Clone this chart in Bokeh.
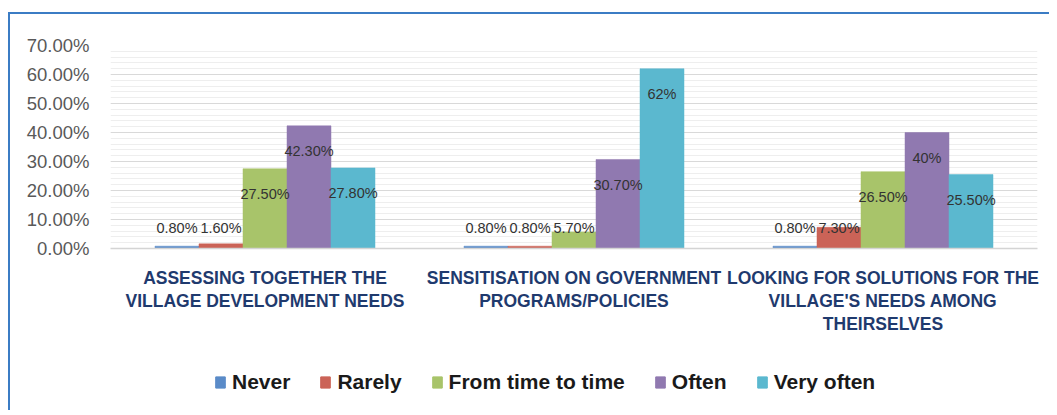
import numpy as np
from bokeh.plotting import figure
from bokeh.layouts import column
from bokeh.core.properties import value
from bokeh.models import (ColumnDataSource, FixedTicker, SingleIntervalTicker,
                          Legend, LegendItem, LabelSet, Range1d)
from bokeh.embed import file_html
from bokeh.resources import INLINE

categories = [
    "ASSESSING TOGETHER THE\nVILLAGE DEVELOPMENT NEEDS",
    "SENSITISATION ON GOVERNMENT\nPROGRAMS/POLICIES",
    "LOOKING FOR SOLUTIONS FOR THE\nVILLAGE'S NEEDS AMONG\nTHEIRSELVES",
]
series = ["Never", "Rarely", "From time to time", "Often", "Very often"]
never = [0.8, 0.8, 0.8]
rarely = [1.6, 0.8, 7.3]
from_time = [27.5, 5.7, 26.5]
often = [42.3, 30.7, 40.0]
very_often = [27.8, 62.0, 25.5]
label_text = [
    ["0.80%", "0.80%", "0.80%"],
    ["1.60%", "0.80%", "7.30%"],
    ["27.50%", "5.70%", "26.50%"],
    ["42.30%", "30.70%", "40%"],
    ["27.80%", "62%", "25.50%"],
]
colors = ["#5A8BC8", "#CB6357", "#A8C46A", "#9079B0", "#5BB8CF"]
values = [never, rarely, from_time, often, very_often]

BLUE = "#3B7CC4"
p = figure(width=1039, height=336, output_backend="svg", toolbar_location=None,
           x_range=Range1d(-0.5, 2.5), y_range=Range1d(0, 70),
           min_border_left=100, min_border_right=12, min_border_top=31, min_border_bottom=102)
p.outline_line_color = None
p.background_fill_color = "white"
p.border_fill_color = "white"

p_leg = figure(width=1039, height=60, output_backend="svg", toolbar_location=None,
               x_range=Range1d(0, 1), y_range=Range1d(0, 1),
               x_axis_location=None, y_axis_location=None,
               min_border_left=0, min_border_right=0, min_border_top=0, min_border_bottom=0)
p_leg.outline_line_color = None
p_leg.grid.visible = False

bw = 0.1424
items = []
for i, (name, vals, col, labs) in enumerate(zip(series, values, colors, label_text)):
    xs = np.arange(3) + (i - 2) * bw
    ly = np.maximum(np.array(vals) - 8.7, 6.9)
    src = ColumnDataSource(dict(x=xs, top=vals, ly=ly, lab=labs))
    p.vbar(x="x", top="top", width=bw, source=src, fill_color=col, line_color=col, line_width=0.5)
    p.add_layout(LabelSet(x="x", y="ly", text="lab", source=src, text_align="center",
                          text_baseline="middle", text_font=value("Liberation Sans"),
                          text_font_size="14.5px", text_color="#333333"))
    # legend proxy glyph, placed outside the visible range of the legend strip
    lr = p_leg.vbar(x=[-5], top=[-5], width=0.1, fill_color=col, line_color=col)
    items.append(LegendItem(label=name, renderers=[lr]))

# axes
p.yaxis.ticker = SingleIntervalTicker(interval=10, num_minor_ticks=5)
p.yaxis.major_label_overrides = {v: f"{v:.2f}%" for v in range(0, 80, 10)}
p.yaxis.axis_line_color = None
p.yaxis.major_tick_line_color = None
p.yaxis.minor_tick_line_color = None
p.yaxis.major_label_standoff = 15
p.yaxis.major_label_text_font = "Liberation Sans"
p.yaxis.major_label_text_font_size = "18.5px"
p.yaxis.major_label_text_color = "#595959"

p.xaxis.ticker = FixedTicker(ticks=[0, 1, 2])
p.xaxis.major_label_overrides = {0: categories[0], 1: categories[1], 2: categories[2]}
p.xaxis.axis_line_color = "#D4D4D4"
p.xaxis.axis_line_width = 1.5
p.xaxis.major_tick_line_color = None
p.xaxis.minor_tick_line_color = None
p.xaxis.major_label_standoff = 13
p.xaxis.major_label_text_font = "Liberation Sans"
p.xaxis.major_label_text_font_style = "bold"
p.xaxis.major_label_text_font_size = "17.5px"
p.xaxis.major_label_text_color = "#1F3A6E"
p.xaxis.major_label_text_line_height = 1.15

p.xgrid.grid_line_color = None
p.ygrid.grid_line_color = "#D9D9D9"
p.ygrid.minor_grid_line_color = "#EEEEEE"

legend = Legend(items=items, orientation="horizontal", location=(104, 16),
                label_text_font="Liberation Sans", label_text_font_style="bold",
                label_text_font_size="21px", label_text_color="#1A1A1A",
                glyph_width=12, glyph_height=14, label_standoff=6, spacing=29,
                padding=0, margin=0, border_line_color=None, background_fill_alpha=0)
p_leg.add_layout(legend, "center")

layout = column(p, p_leg, spacing=0)
layout.styles = {"margin-top": "12px", "margin-left": "8px",
                 "border-top": f"2px solid {BLUE}", "border-left": f"2px solid {BLUE}"}

open("out.html", "w").write(file_html(layout, INLINE))
